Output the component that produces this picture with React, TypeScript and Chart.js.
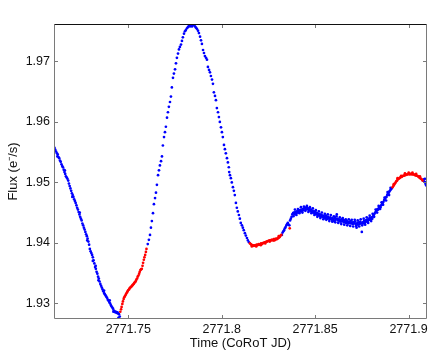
import React, { useEffect, useRef } from "react";
import { Chart, registerables } from "chart.js";

Chart.register(...registerables);

const xTickValues = [2771.75, 2771.8, 2771.85, 2771.9];
const xTickLabels = ["2771.75", "2771.8", "2771.85", "2771.9"];
const yTickValues = [1.93, 1.94, 1.95, 1.96, 1.97];
const yTickLabels = ["1.93", "1.94", "1.95", "1.96", "1.97"];
const xRange = [2771.7102, 2771.9099];
const yRange = [1.9274, 1.9762];
const xTitle = "Time (CoRoT JD)";
const yTitle = "Flux (e\u207B/s)";

// blue points: [time, flux]
const bluePoints: [number, number][] = [
  [2771.7105, 1.9557], [2771.7109, 1.9554], [2771.7113, 1.9551], [2771.7118, 1.9548], [2771.7122, 1.9546],
  [2771.7126, 1.9542], [2771.7130, 1.954], [2771.7134, 1.9536], [2771.7138, 1.9534], [2771.7142, 1.953],
  [2771.7146, 1.9527], [2771.7150, 1.9525], [2771.7154, 1.9521], [2771.7158, 1.9517], [2771.7162, 1.9514],
  [2771.7166, 1.951], [2771.7170, 1.9508], [2771.7174, 1.9506], [2771.7178, 1.9503], [2771.7182, 1.9498],
  [2771.7186, 1.9494], [2771.7190, 1.949], [2771.7194, 1.9486], [2771.7198, 1.9482], [2771.7202, 1.9479],
  [2771.7206, 1.9476], [2771.7210, 1.9472], [2771.7214, 1.9469], [2771.7218, 1.9466], [2771.7222, 1.9462],
  [2771.7226, 1.9458], [2771.7230, 1.9455], [2771.7234, 1.9451], [2771.7238, 1.9447], [2771.7242, 1.9443],
  [2771.7246, 1.944], [2771.7250, 1.9437], [2771.7254, 1.9432], [2771.7258, 1.9429], [2771.7262, 1.9425],
  [2771.7266, 1.9422], [2771.7270, 1.9418], [2771.7274, 1.9414], [2771.7278, 1.9411], [2771.7282, 1.9407],
  [2771.7286, 1.9402], [2771.7290, 1.9397], [2771.7294, 1.939], [2771.7298, 1.9386], [2771.7302, 1.9383],
  [2771.7306, 1.938], [2771.7310, 1.9376], [2771.7314, 1.9371], [2771.7318, 1.9366], [2771.7322, 1.936],
  [2771.7326, 1.9357], [2771.7330, 1.9352], [2771.7334, 1.9349], [2771.7338, 1.9344], [2771.7342, 1.9341],
  [2771.7346, 1.9336], [2771.7350, 1.9332], [2771.7354, 1.9329], [2771.7358, 1.9326], [2771.7362, 1.9323],
  [2771.7366, 1.932], [2771.7370, 1.9317], [2771.7374, 1.9315], [2771.7378, 1.9313], [2771.7382, 1.9311],
  [2771.7386, 1.9309], [2771.7390, 1.9306], [2771.7394, 1.9304], [2771.7398, 1.9302], [2771.7402, 1.93],
  [2771.7406, 1.9297], [2771.7410, 1.9295], [2771.7414, 1.9293], [2771.7418, 1.9291], [2771.7422, 1.9288],
  [2771.7426, 1.9287], [2771.7430, 1.9285], [2771.7434, 1.9286], [2771.7438, 1.9284], [2771.7442, 1.9285],
  [2771.7446, 1.9283], [2771.7447, 1.9276], [2771.7450, 1.9282], [2771.7454, 1.9278],
  [2771.7120, 1.9543], [2771.7160, 1.952], [2771.7200, 1.9476], [2771.7240, 1.945], [2771.7280, 1.9404],
  [2771.7310, 1.937], [2771.7325, 1.9362], [2771.7340, 1.9338], [2771.7370, 1.9321], [2771.7400, 1.9305],
  [2771.7420, 1.9286],
  [2771.7604, 1.9398], [2771.7610, 1.9405], [2771.7616, 1.9413], [2771.7621, 1.9425], [2771.7626, 1.9436],
  [2771.7632, 1.9449], [2771.7637, 1.9464], [2771.7643, 1.9474], [2771.7648, 1.9483], [2771.7653, 1.9496],
  [2771.7659, 1.9512], [2771.7664, 1.952], [2771.7669, 1.9528], [2771.7675, 1.9535], [2771.7680, 1.9543],
  [2771.7685, 1.9561], [2771.7691, 1.9575], [2771.7696, 1.9583], [2771.7701, 1.9592], [2771.7707, 1.9607],
  [2771.7712, 1.9616], [2771.7717, 1.9625], [2771.7723, 1.9633], [2771.7728, 1.9642], [2771.7733, 1.9657],
  [2771.7739, 1.9673], [2771.7744, 1.968], [2771.7750, 1.9687], [2771.7755, 1.9697], [2771.7760, 1.9706],
  [2771.7766, 1.9713], [2771.7771, 1.972], [2771.7776, 1.9724], [2771.7782, 1.9728], [2771.7787, 1.9734],
  [2771.7792, 1.974], [2771.7798, 1.9746], [2771.7803, 1.975], [2771.7808, 1.9752], [2771.7814, 1.9755],
  [2771.7819, 1.9757], [2771.7825, 1.976], [2771.7830, 1.9758], [2771.7835, 1.9761], [2771.7841, 1.9758],
  [2771.7846, 1.976], [2771.7851, 1.9761], [2771.7857, 1.9758], [2771.7862, 1.9756], [2771.7867, 1.9754],
  [2771.7873, 1.9751], [2771.7878, 1.9747], [2771.7884, 1.9741], [2771.7889, 1.9735], [2771.7894, 1.9729],
  [2771.7900, 1.9719], [2771.7905, 1.9714], [2771.7910, 1.9709], [2771.7916, 1.9706], [2771.7921, 1.9703],
  [2771.7926, 1.9691], [2771.7932, 1.9686], [2771.7937, 1.9682], [2771.7942, 1.9676], [2771.7948, 1.967],
  [2771.7953, 1.9663], [2771.7958, 1.9649], [2771.7964, 1.9643], [2771.7969, 1.9636], [2771.7974, 1.9623],
  [2771.7980, 1.9616], [2771.7985, 1.9608], [2771.7990, 1.96], [2771.7996, 1.9591], [2771.8001, 1.9583],
  [2771.8006, 1.9575], [2771.8012, 1.9562], [2771.8017, 1.9555], [2771.8022, 1.9548], [2771.8028, 1.954],
  [2771.8033, 1.9533], [2771.8038, 1.9525], [2771.8040, 1.9517], [2771.8044, 1.9512], [2771.8049, 1.9507],
  [2771.8054, 1.95], [2771.8060, 1.9492], [2771.8065, 1.9486], [2771.8070, 1.9479], [2771.8076, 1.9466],
  [2771.8081, 1.9458], [2771.8086, 1.9452], [2771.8092, 1.9446], [2771.8097, 1.944], [2771.8102, 1.9433],
  [2771.8108, 1.9429], [2771.8113, 1.9425], [2771.8118, 1.9421], [2771.8124, 1.9416], [2771.8129, 1.9412],
  [2771.8135, 1.9408], [2771.8140, 1.9404], [2771.8146, 1.9401],
  [2771.8322, 1.9413], [2771.8326, 1.9417], [2771.8330, 1.9419], [2771.8334, 1.9421], [2771.8338, 1.9424],
  [2771.8342, 1.9426], [2771.8346, 1.9429], [2771.8350, 1.9431], [2771.8354, 1.9433], [2771.8358, 1.943],
  [2771.8362, 1.9429], [2771.8366, 1.9437], [2771.8370, 1.944], [2771.8374, 1.9443], [2771.8378, 1.9447],
  [2771.8382, 1.9449], [2771.8386, 1.945], [2771.8390, 1.9447], [2771.8394, 1.9451], [2771.8398, 1.9449],
  [2771.8402, 1.9452], [2771.8406, 1.945], [2771.8410, 1.9453], [2771.8414, 1.9451], [2771.8418, 1.9454],
  [2771.8422, 1.9452], [2771.8426, 1.9455], [2771.8430, 1.9453], [2771.8434, 1.9456], [2771.8438, 1.9454],
  [2771.8442, 1.9457], [2771.8446, 1.9458], [2771.8450, 1.9455], [2771.8454, 1.9459], [2771.8458, 1.9456],
  [2771.8462, 1.9457], [2771.8466, 1.9454], [2771.8470, 1.9456], [2771.8474, 1.9453], [2771.8478, 1.9455],
  [2771.8482, 1.9451], [2771.8486, 1.9453], [2771.8490, 1.945], [2771.8494, 1.9452], [2771.8498, 1.9449],
  [2771.8502, 1.9451], [2771.8506, 1.9447], [2771.8510, 1.9449], [2771.8514, 1.9446], [2771.8518, 1.9448],
  [2771.8522, 1.9445], [2771.8526, 1.9447], [2771.8530, 1.9444], [2771.8534, 1.9446], [2771.8538, 1.9443],
  [2771.8542, 1.9445], [2771.8546, 1.9442], [2771.8550, 1.9444], [2771.8554, 1.9441], [2771.8558, 1.9445],
  [2771.8562, 1.9442], [2771.8566, 1.944], [2771.8570, 1.9443], [2771.8574, 1.9441], [2771.8578, 1.9439],
  [2771.8582, 1.9442], [2771.8586, 1.944], [2771.8590, 1.9438], [2771.8594, 1.9441], [2771.8598, 1.9439],
  [2771.8602, 1.9436], [2771.8606, 1.9441], [2771.8610, 1.9438], [2771.8614, 1.9444], [2771.8618, 1.944],
  [2771.8622, 1.9437], [2771.8626, 1.9439], [2771.8630, 1.9436], [2771.8634, 1.9438], [2771.8638, 1.9435],
  [2771.8642, 1.9439], [2771.8646, 1.9436], [2771.8650, 1.9438], [2771.8654, 1.9434], [2771.8658, 1.9437],
  [2771.8662, 1.9435], [2771.8666, 1.9433], [2771.8670, 1.9436], [2771.8674, 1.9434], [2771.8678, 1.9432],
  [2771.8682, 1.9435], [2771.8686, 1.9433], [2771.8690, 1.9436], [2771.8694, 1.9432], [2771.8698, 1.9434],
  [2771.8702, 1.9431], [2771.8706, 1.9434], [2771.8710, 1.9432], [2771.8714, 1.9435], [2771.8718, 1.9431],
  [2771.8722, 1.9425], [2771.8726, 1.9433], [2771.8730, 1.943], [2771.8734, 1.9434], [2771.8738, 1.9431],
  [2771.8742, 1.9435], [2771.8746, 1.9432], [2771.8750, 1.9418], [2771.8754, 1.9434], [2771.8758, 1.9432],
  [2771.8762, 1.9436], [2771.8766, 1.9433], [2771.8770, 1.9437], [2771.8774, 1.9435], [2771.8778, 1.9438],
  [2771.8782, 1.9436], [2771.8786, 1.944], [2771.8790, 1.9438], [2771.8794, 1.9441], [2771.8798, 1.9439],
  [2771.8802, 1.9442], [2771.8806, 1.944], [2771.8810, 1.9444], [2771.8814, 1.9446], [2771.8818, 1.9448],
  [2771.8822, 1.945], [2771.8826, 1.9452], [2771.8830, 1.9454], [2771.8834, 1.9456], [2771.8838, 1.9455],
  [2771.8842, 1.9458], [2771.8846, 1.946], [2771.8850, 1.9459], [2771.8854, 1.9462], [2771.8858, 1.9464],
  [2771.8862, 1.9466], [2771.8866, 1.9468], [2771.8870, 1.9471], [2771.8874, 1.9473], [2771.8878, 1.9475],
  [2771.8882, 1.9476], [2771.8886, 1.9479], [2771.8890, 1.9482], [2771.8894, 1.9483], [2771.8898, 1.9485],
  [2771.8902, 1.9487], [2771.8906, 1.9489], [2771.8910, 1.949],
  [2771.8384, 1.9444], [2771.8392, 1.9455], [2771.8400, 1.9446], [2771.8408, 1.9456], [2771.8416, 1.9449],
  [2771.8424, 1.9459], [2771.8432, 1.945], [2771.8440, 1.946], [2771.8448, 1.9453], [2771.8456, 1.9461],
  [2771.8464, 1.9451], [2771.8472, 1.9459], [2771.8480, 1.9449], [2771.8488, 1.9457], [2771.8496, 1.9446],
  [2771.8504, 1.9454], [2771.8512, 1.9443], [2771.8520, 1.9452], [2771.8528, 1.9441], [2771.8536, 1.945],
  [2771.8544, 1.9439], [2771.8552, 1.9448], [2771.8560, 1.9438], [2771.8568, 1.9447], [2771.8576, 1.9436],
  [2771.8584, 1.9446], [2771.8592, 1.9435], [2771.8600, 1.9444], [2771.8608, 1.9434], [2771.8616, 1.9447],
  [2771.8624, 1.9433], [2771.8632, 1.9442], [2771.8640, 1.9431], [2771.8648, 1.9441], [2771.8656, 1.943],
  [2771.8664, 1.9439], [2771.8672, 1.9429], [2771.8680, 1.9439], [2771.8688, 1.9428], [2771.8696, 1.9438],
  [2771.8704, 1.9427], [2771.8712, 1.9438], [2771.8720, 1.9428], [2771.8728, 1.9437], [2771.8736, 1.9427],
  [2771.8744, 1.9439], [2771.8752, 1.9429], [2771.8760, 1.944], [2771.8768, 1.943], [2771.8776, 1.9442],
  [2771.8784, 1.9433], [2771.8792, 1.9445], [2771.8800, 1.9436], [2771.8808, 1.9448], [2771.8816, 1.9443],
  [2771.8824, 1.9455], [2771.8832, 1.945], [2771.8840, 1.9461], [2771.8848, 1.9456], [2771.8856, 1.9467],
  [2771.8864, 1.9463], [2771.8872, 1.9475], [2771.8880, 1.947], [2771.8888, 1.9484], [2771.8896, 1.9479],
  [2771.8904, 1.9491],
  [2771.9079, 1.9503], [2771.9083, 1.9505], [2771.9086, 1.9501], [2771.9088, 1.9506], [2771.9089, 1.95],
  [2771.9092, 1.9497], [2771.9095, 1.9495],
];

// red points: [time, flux]
const redPoints: [number, number][] = [
  [2771.7457, 1.9286], [2771.7461, 1.929], [2771.7464, 1.9294], [2771.7468, 1.9299], [2771.7471, 1.9303],
  [2771.7475, 1.9307], [2771.7478, 1.931], [2771.7482, 1.9312], [2771.7486, 1.9314], [2771.7489, 1.9316],
  [2771.7493, 1.9318], [2771.7496, 1.932], [2771.7500, 1.9322], [2771.7504, 1.9323], [2771.7507, 1.9325],
  [2771.7511, 1.9326], [2771.7514, 1.9327], [2771.7518, 1.9328], [2771.7522, 1.933], [2771.7525, 1.9331],
  [2771.7529, 1.9332], [2771.7532, 1.9334], [2771.7536, 1.9335], [2771.7540, 1.9337], [2771.7543, 1.9339],
  [2771.7547, 1.9341], [2771.7550, 1.9344], [2771.7554, 1.9346], [2771.7558, 1.9349], [2771.7561, 1.9352],
  [2771.7565, 1.9355], [2771.7568, 1.9356], [2771.7572, 1.9357], [2771.7576, 1.9362], [2771.7579, 1.9367],
  [2771.7583, 1.9372], [2771.7586, 1.9376], [2771.7590, 1.938], [2771.7594, 1.9385], [2771.7597, 1.939],
  [2771.8151, 1.9399], [2771.8155, 1.9398], [2771.8159, 1.9397], [2771.8163, 1.9396], [2771.8167, 1.9396],
  [2771.8171, 1.9395], [2771.8175, 1.9396], [2771.8179, 1.9395], [2771.8183, 1.9396], [2771.8187, 1.9397],
  [2771.8191, 1.9396], [2771.8195, 1.9397], [2771.8199, 1.9398], [2771.8203, 1.9397], [2771.8207, 1.9398],
  [2771.8211, 1.9399], [2771.8215, 1.9398], [2771.8219, 1.9399], [2771.8223, 1.94], [2771.8227, 1.94],
  [2771.8231, 1.9401], [2771.8235, 1.9401], [2771.8239, 1.9402], [2771.8243, 1.9402], [2771.8247, 1.9403],
  [2771.8251, 1.9403], [2771.8255, 1.9404], [2771.8259, 1.9403], [2771.8263, 1.9404], [2771.8267, 1.9405],
  [2771.8271, 1.9405], [2771.8275, 1.9404], [2771.8279, 1.9406], [2771.8283, 1.9406], [2771.8287, 1.9405],
  [2771.8291, 1.9407], [2771.8295, 1.9406], [2771.8299, 1.9407], [2771.8303, 1.9408], [2771.8307, 1.9409],
  [2771.8311, 1.941], [2771.8315, 1.9412], [2771.8319, 1.9413], [2771.8364, 1.9424],
  [2771.8161, 1.9394], [2771.8185, 1.9394], [2771.8209, 1.9396], [2771.8233, 1.9399], [2771.8257, 1.9402],
  [2771.8281, 1.9404], [2771.8305, 1.9411],
  [2771.8915, 1.9492], [2771.8919, 1.9494], [2771.8923, 1.9496], [2771.8927, 1.9498], [2771.8931, 1.95],
  [2771.8935, 1.9502], [2771.8939, 1.9503], [2771.8943, 1.9505], [2771.8947, 1.9506], [2771.8951, 1.9507],
  [2771.8955, 1.9508], [2771.8959, 1.9509], [2771.8963, 1.9509], [2771.8967, 1.951], [2771.8971, 1.9511],
  [2771.8975, 1.9511], [2771.8979, 1.9512], [2771.8983, 1.9512], [2771.8987, 1.9513], [2771.8991, 1.9513],
  [2771.8995, 1.9513], [2771.8999, 1.9514], [2771.9003, 1.9514], [2771.9007, 1.9513], [2771.9011, 1.9514],
  [2771.9015, 1.9514], [2771.9019, 1.9513], [2771.9023, 1.9514], [2771.9027, 1.9513], [2771.9031, 1.9513],
  [2771.9035, 1.9512], [2771.9039, 1.9512], [2771.9043, 1.9511], [2771.9047, 1.9511], [2771.9051, 1.951],
  [2771.9055, 1.9509], [2771.9059, 1.9508], [2771.9063, 1.9507], [2771.9067, 1.9506], [2771.9071, 1.9505],
  [2771.9075, 1.9503],
  [2771.8921, 1.9497], [2771.8941, 1.9507], [2771.8961, 1.9511], [2771.8981, 1.9515], [2771.9001, 1.9516],
  [2771.9021, 1.9516], [2771.9041, 1.9514], [2771.9061, 1.951],
];

const FONT = "'Liberation Sans', Arial, Helvetica, sans-serif";

const framePlugin = {
  id: "matlabFrame",
  afterDraw(chart: any) {
    const { ctx, chartArea: a, scales } = chart;
    const tl = 4;
    ctx.save();
    ctx.lineWidth = 1;
    ctx.strokeStyle = "#7a7a7a";
    ctx.beginPath();
    for (const v of xTickValues) {
      const x = Math.round(scales.x.getPixelForValue(v)) + 0.5;
      ctx.moveTo(x, a.bottom);
      ctx.lineTo(x, a.bottom - tl);
      ctx.moveTo(x, a.top);
      ctx.lineTo(x, a.top + tl);
    }
    for (const v of yTickValues) {
      const y = Math.round(scales.y.getPixelForValue(v)) + 0.5;
      ctx.moveTo(a.left, y);
      ctx.lineTo(a.left + tl, y);
      ctx.moveTo(a.right, y);
      ctx.lineTo(a.right - tl, y);
    }
    ctx.stroke();
    const l = Math.round(a.left) + 0.5;
    const r = Math.round(a.right) - 0.5;
    const t = Math.round(a.top) + 0.5;
    const b = Math.round(a.bottom) - 0.5;
    ctx.beginPath();
    ctx.moveTo(l, t);
    ctx.lineTo(l, b);
    ctx.lineTo(r, b);
    ctx.lineTo(r, t);
    ctx.stroke();
    ctx.strokeStyle = "#111";
    ctx.beginPath();
    ctx.moveTo(l, t);
    ctx.lineTo(r, t);
    ctx.stroke();
    ctx.restore();
  },
};

export default function App() {
  const ref = useRef<HTMLCanvasElement>(null);
  useEffect(() => {
    if (!ref.current) return;
    const chart = new Chart(ref.current, {
      type: "scatter",
      data: {
        datasets: [
          {
            label: "red",
            data: redPoints.map(([x, y]) => ({ x, y })),
            backgroundColor: "#ff0000",
            borderWidth: 0,
            pointRadius: 1.35,
          },
          {
            label: "blue",
            data: bluePoints.map(([x, y]) => ({ x, y })),
            backgroundColor: "#0000ff",
            borderWidth: 0,
            pointRadius: 1.35,
          },
        ],
      },
      options: {
        animation: false,
        responsive: false,
        events: [],
        layout: { padding: { left: 0, top: 24, right: 9, bottom: 0 } },
        plugins: { legend: { display: false }, tooltip: { enabled: false } },
        scales: {
          x: {
            type: "linear",
            min: xRange[0],
            max: xRange[1],
            afterBuildTicks: (s: any) => {
              s.ticks = xTickValues.map((value) => ({ value }));
            },
            afterFit: (s: any) => {
              s.height = 34;
            },
            ticks: {
              autoSkip: false,
              maxRotation: 0,
              padding: 3,
              color: "#111",
              font: { family: FONT, size: 12.5 },
              callback: (_v: any, i: number) => xTickLabels[i],
            },
            grid: { display: false, drawTicks: false },
            border: { display: false },
            title: {
              display: true,
              text: xTitle,
              color: "#111",
              font: { family: FONT, size: 13 },
              padding: { top: 0, bottom: 2 },
            },
          },
          y: {
            type: "linear",
            min: yRange[0],
            max: yRange[1],
            afterBuildTicks: (s: any) => {
              s.ticks = yTickValues.map((value) => ({ value }));
            },
            afterFit: (s: any) => {
              s.width = 54;
            },
            ticks: {
              autoSkip: false,
              padding: 4,
              color: "#111",
              font: { family: FONT, size: 12.5 },
              callback: (_v: any, i: number) => yTickLabels[i],
            },
            grid: { display: false, drawTicks: false },
            border: { display: false },
            title: {
              display: true,
              text: yTitle,
              color: "#111",
              font: { family: FONT, size: 13 },
              padding: { top: 6, bottom: 0 },
            },
          },
        },
      },
      plugins: [framePlugin],
    });
    return () => chart.destroy();
  }, []);
  return (
    <div style={{ position: "absolute", left: 0, top: 0, width: 436, height: 353, background: "#fff" }}>
      <canvas ref={ref} width={436} height={353} />
    </div>
  );
}
